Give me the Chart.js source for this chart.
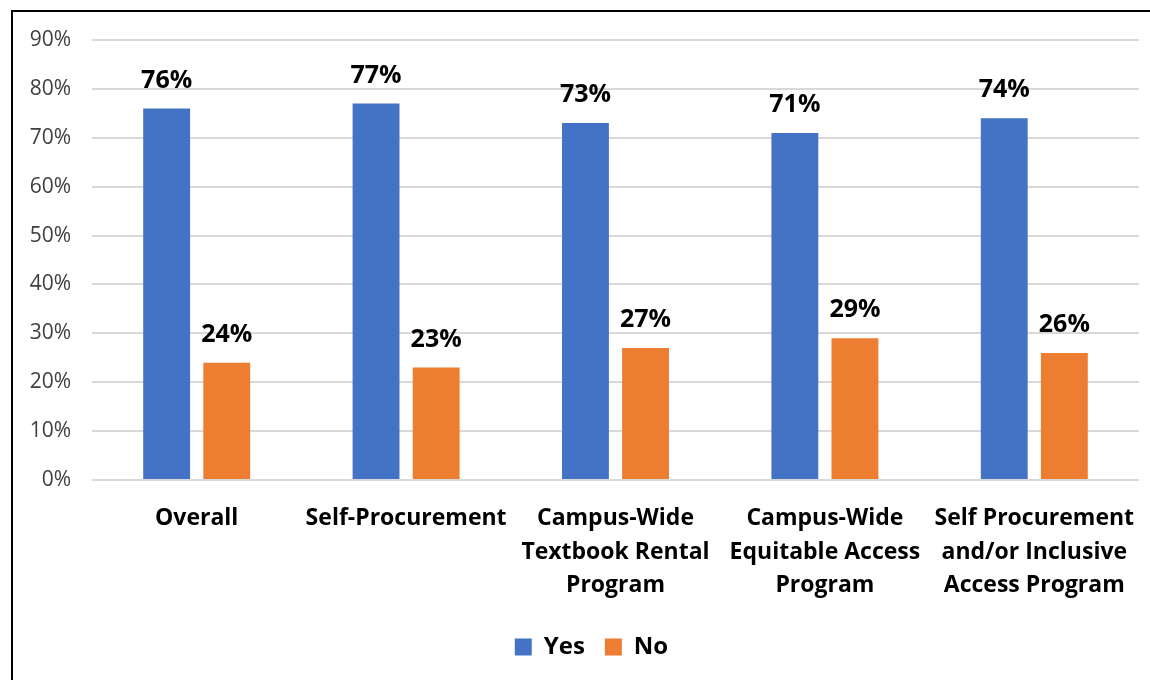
<!DOCTYPE html>
<html>
<head>
<meta charset="utf-8">
<title>Yes / No by program</title>
<script src="https://cdn.jsdelivr.net/npm/chart.js@4.4.1/dist/chart.umd.min.js"></script>
<style>
    html, body { margin: 0; padding: 0; background: #fff; }
    #wrap { position: relative; width: 1150px; height: 680px; overflow: hidden; }
    #frame { position: absolute; left: 11px; top: 10px; width: 1200px; height: 720px; border: 2px solid #000; }
    #chart { position: absolute; left: 0; top: 0; }
</style>
</head>
<body>
<div id="wrap">
    <div id="frame"></div>
    <canvas id="chart" width="1150" height="680"></canvas>
</div>
<script>
// Chart data
const categories = [
    'Overall',
    'Self-Procurement',
    ['Campus-Wide', 'Textbook Rental', 'Program'],
    ['Campus-Wide', 'Equitable Access', 'Program'],
    ['Self Procurement', 'and/or Inclusive', 'Access Program']
];
const yesValues = [76, 77, 73, 71, 74];
const noValues = [24, 23, 27, 29, 26];
const yTicks = [0, 10, 20, 30, 40, 50, 60, 70, 80, 90];

const FONT = "'Open Sans', 'Liberation Sans', sans-serif";

// Draws the value labels above each bar
const barLabels = {
    id: 'barLabels',
    afterDatasetsDraw(chart) {
        const ctx = chart.ctx;
        ctx.save();
        ctx.font = `bold 25px ${FONT}`;
        ctx.fillStyle = '#000';
        ctx.textAlign = 'center';
        ctx.textBaseline = 'middle';
        chart.data.datasets.forEach((ds, i) => {
            chart.getDatasetMeta(i).data.forEach((bar, j) => {
                ctx.fillText(ds.data[j] + '%', bar.x, bar.y - 28);
            });
        });
        ctx.restore();
    }
};

// Legend sits a little right of centre in the original
const legendShift = {
    id: 'legendShift',
    afterLayout(chart) {
        chart.legend.left += 22;
        chart.legend.right += 22;
    }
};

new Chart(document.getElementById('chart'), {
    type: 'bar',
    data: {
        labels: categories,
        datasets: [
            { label: 'Yes', data: yesValues, backgroundColor: '#4472C4' },
            { label: 'No', data: noValues, backgroundColor: '#ED7D31' }
        ]
    },
    options: {
        responsive: false,
        animation: false,
        categoryPercentage: 0.574,
        barPercentage: 0.78,
        layout: { padding: { top: 40, right: 11, left: 0, bottom: 11 } },
        plugins: {
            tooltip: { enabled: false },
            legend: {
                position: 'bottom',
                labels: {
                    font: { family: FONT, size: 24, weight: 'bold' },
                    color: '#000',
                    boxWidth: 17,
                    boxHeight: 17,
                    padding: 20
                }
            }
        },
        scales: {
            x: {
                grid: { display: false },
                border: { display: false },
                ticks: {
                    color: '#000',
                    font: { family: FONT, size: 23, weight: 'bold', lineHeight: 1.46 },
                    padding: 14,
                    autoSkip: false,
                    maxRotation: 0
                },
                afterFit(scale) { scale.height = 135; }
            },
            y: {
                min: 0,
                max: 90,
                afterBuildTicks(scale) { scale.ticks = yTicks.map(v => ({ value: v })); },
                grid: { color: '#d9d9d9', lineWidth: 2, drawTicks: false },
                border: { display: false },
                ticks: {
                    color: '#404040',
                    font: { family: FONT, size: 21 },
                    padding: 21,
                    callback: v => v + '%'
                },
                afterFit(scale) { scale.width = 92; }
            }
        }
    },
    plugins: [barLabels, legendShift]
});
</script>
</body>
</html>
